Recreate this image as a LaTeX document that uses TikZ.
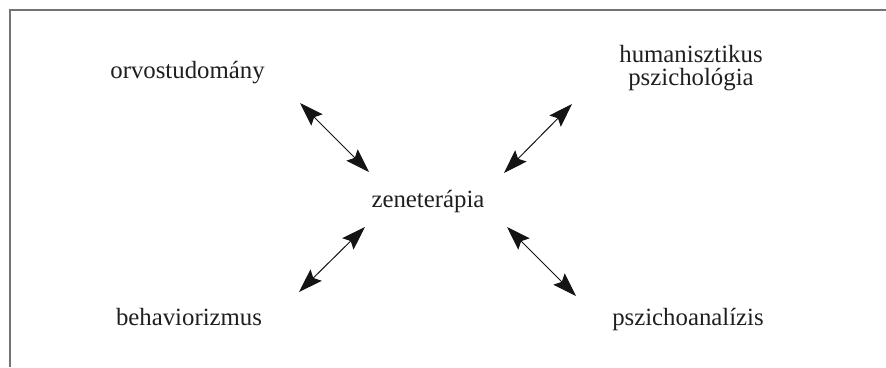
\documentclass[tikz,border=0pt]{standalone}
\usepackage{fontspec}
\setmainfont{Liberation Serif}
\usetikzlibrary{arrows.meta}
\begin{document}
\begin{tikzpicture}[x=1pt,y=-1pt,
  lbl/.style={anchor=base,inner sep=0pt,text=black!88,font=\fontsize{24.8}{21}\selectfont},
  tip/.tip={Stealth[length=24pt,width=16pt,inset=4pt]},
  dbl/.style={line width=1pt,draw=black!92,{tip}-{tip}},
  frame/.style={draw=black!55,line width=1.3pt}]
\useasboundingbox (0,0) rectangle (886,367);
\draw[frame] (886,10) -- (10,10) -- (10,367);
\node[lbl] (orvos) at (187.5,78) {orvostudomány};
\node[lbl] (human) at (691,62) {\setlength{\tabcolsep}{0pt}\begin{tabular}[t]{c}humanisztikus\\pszichológia\end{tabular}};
\node[lbl] (zene) at (428,207) {zeneterápia};
\node[lbl] (behav) at (189,325) {behaviorizmus};
\node[lbl] (pszich) at (688,325) {pszichoanalízis};
\coordinate (a1) at (300,103); \coordinate (b1) at (369,172);
\coordinate (a2) at (572,104); \coordinate (b2) at (504,173);
\coordinate (a3) at (365,227); \coordinate (b3) at (299,292);
\coordinate (a4) at (507,227); \coordinate (b4) at (576,296);
\draw[dbl] (a1) -- (b1);
\draw[dbl] (a2) -- (b2);
\draw[dbl] (a3) -- (b3);
\draw[dbl] (a4) -- (b4);
\end{tikzpicture}
\end{document}
